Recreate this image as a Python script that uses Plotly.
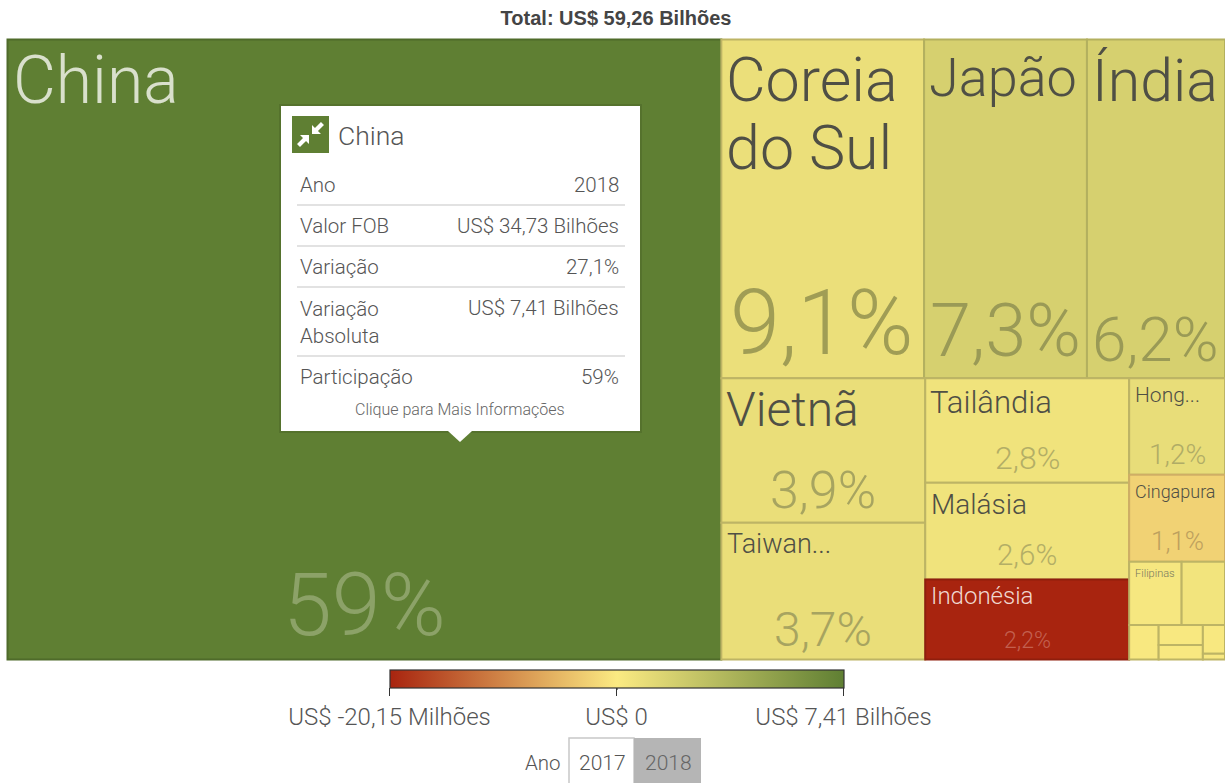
import plotly.graph_objects as go

W, H = 1225, 783

# ---- data ----
ids = ["root", "China", "Resto", "Linha1", "Linha2", "Coreia do Sul", "Japão", "Índia",
       "Col1", "Col2", "Col3", "Vietnã", "Taiwan", "Tailândia", "Malásia", "Indonésia",
       "Hong Kong", "Cingapura", "Menores", "MenoresB", "FaixaA", "FaixaB",
       "Filipinas", "Outro1", "Outro2", "Grupo3", "Grupo4",
       "Outro3", "Outro4", "Outro5", "Outro6"]
parents = ["", "root", "root", "Resto", "Resto", "Linha1", "Linha1", "Linha1",
           "Linha2", "Linha2", "Linha2", "Col1", "Col1", "Col2", "Col2", "Col2",
           "Col3", "Col3", "Col3", "Menores", "MenoresB", "MenoresB",
           "FaixaA", "FaixaA", "FaixaB", "FaixaB", "FaixaB",
           "Grupo3", "Grupo3", "Grupo4", "Grupo4"]
# FOB value, US$ billions (groups are 0: they just sum their children)
values = [0, 34.73, 0, 0, 0, 5.39, 4.33, 3.67,
          0, 0, 0, 2.31, 2.19, 1.67, 1.55, 1.28,
          0.725, 0.655, 0, 0, 0, 0,
          0.26, 0.215, 0.08, 0, 0,
          0.07, 0.05, 0.05, 0.01]
# position on the diverging colour scale: -1 = -20,15 mi, 0 = 0, 1 = 7,41 bi
color_pos = [0, 1.0, 0, 0, 0, 0.10, 0.24, 0.24,
             0, 0, 0, 0.11, 0.11, 0.07, 0.07, -1.0,
             0.12, -0.12, 0, 0, 0, 0,
             0.03, 0.06, 0.02, 0, 0,
             0.02, 0.02, 0.02, 0.02]
B = "#bdb465"
N = "rgba(0,0,0,0)"
line_colors = [N, "#4f6b2a", N, N, N,
               B, "#b3b05f", "#b3b05f",
               N, N, N, B, B,
               B, B, "#8f1e0d",
               B, "#cfae65", N, N, N, N,
               B, B, B, N, N,
               B, B, B, B]
line_widths = [0, 2, 0, 0, 0, 2, 2, 2, 0, 0, 0, 2, 2, 2, 2, 2,
               2, 2, 0, 0, 0, 0, 2, 2, 2, 0, 0, 2, 2, 2, 2]
scale = [[0.0, "#a8240f"], [0.5, "#fbea82"], [1.0, "#5f7f33"]]

title_text = "Total: US$ 59,26 Bilhões"
tick_vals = [-1, 0, 1]
tick_text = ["US$ -20,15 Milhões", "US$ 0", "US$ 7,41 Bilhões"]

cell_labels = ["China", "Coreia", "do Sul", "Japão", "Índia", "Vietnã", "Taiwan...", "Tailândia",
               "Malásia", "Indonésia", "Hong...", "Cingapura", "Filipinas"]
label_x = [11, 724, 724, 927, 1090, 724, 725, 928, 929, 929, 1133, 1133, 1133]
label_y = [81, 80, 148, 78, 80, 409, 544, 402, 504, 596, 395, 491, 573]
label_size = [66, 61, 61, 54, 59, 48, 27, 31, 28, 24, 21, 18, 11]
label_color = ["#d9e0cc"] + ["#4f4f45"] * 8 + ["#f0d8cf"] + ["#4f4f45"] * 2 + ["#77775f"]

pct_labels = ["59%", "9,1%", "7,3%", "6,2%", "3,9%", "3,7%", "2,8%", "2,6%", "2,2%", "1,2%", "1,1%"]
pct_x = [364, 822, 1005, 1155, 823, 823, 1027, 1027, 1027, 1177, 1177]
pct_y = [604, 324, 331, 339, 490, 629, 458, 555, 640, 454, 541]
pct_size = [88, 90, 74, 62, 52, 48, 32, 29.5, 23, 28, 26]
pct_color = ["#8ca268", "#a09d55", "#9a9a56", "#9a9a56", "#a7a460", "#a7a460", "#b3ae66", "#b3ae66",
             "#c3604f", "#b0ac66", "#bda05e"]

tip_title = "China"
tip_rows = ["Ano", "Valor FOB", "Variação", "Variação<br>Absoluta", "Participação"]
tip_vals = ["2018", "US$ 34,73 Bilhões", "27,1%", "US$ 7,41 Bilhões", "59%"]
tip_row_y = [185, 226, 267, 322, 377]
tip_val_y = [185, 226, 267, 308, 377]
tip_sep_y = [205, 246, 287, 356]
tip_foot = "Clique para Mais Informações"

FONT = "Roboto"
px = lambda x: x / W
py = lambda y: 1 - y / H


def txt(text, x, y, size, color, anchor="left", weight=300):
    return dict(text=text, x=px(x), y=py(y), xref="paper", yref="paper", showarrow=False,
                xanchor=anchor, yanchor="middle", align=anchor,
                font=dict(family=FONT, size=size, color=color, weight=weight))


def rect(x0, y0, x1, y1, fill, line=None, lw=0):
    return dict(type="rect", xref="paper", yref="paper", x0=px(x0), x1=px(x1), y0=py(y0), y1=py(y1),
                fillcolor=fill, line=dict(color=line or fill, width=lw), layer="above")


def path(pts, fill):
    d = "M " + " L ".join(f"{px(a):.5f} {py(b):.5f}" for a, b in pts) + " Z"
    return dict(type="path", xref="paper", yref="paper", path=d, fillcolor=fill,
                line=dict(width=0), layer="above")


fig = go.Figure(go.Treemap(
    ids=ids, labels=ids, parents=parents, values=values, branchvalues="remainder", sort=False,
    textinfo="none", hoverinfo="skip",
    tiling=dict(packing="slice-dice", pad=0),
    pathbar=dict(visible=False),
    domain=dict(x=[7.5 / W, 1], y=[1 - 659.5 / H, 1 - 39.5 / H]),
    marker=dict(colors=color_pos, colorscale=scale, cmin=-1, cmax=1, showscale=True,
                pad=dict(t=0, l=0, r=0, b=0),
                line=dict(color=line_colors, width=line_widths),
                colorbar=dict(orientation="h", lenmode="pixels", len=454, thicknessmode="pixels",
                              thickness=18, x=616.5 / W, xanchor="center", y=py(670), yanchor="top",
                              xpad=0, ypad=0, outlinecolor="#333", outlinewidth=1.2,
                              tickmode="array", tickvals=tick_vals, ticktext=tick_text,
                              ticks="outside", ticklen=8, tickcolor="#333", tickwidth=1.2,
                              tickfont=dict(family=FONT, size=24, color="#555", weight=300))),
))

annos = [txt(t, x, y, s, c) for t, x, y, s, c in zip(cell_labels, label_x, label_y, label_size, label_color)]
annos += [txt(t, x, y, s, c, "center") for t, x, y, s, c in zip(pct_labels, pct_x, pct_y, pct_size, pct_color)]
annos += [txt(tip_title, 336, 135, 26.5, "#555")]
annos += [txt(t, 298, y, 20.5, "#555") for t, y in zip(tip_rows, tip_row_y)]
annos += [txt(t, 621, y, 20.5, "#555", "right") for t, y in zip(tip_vals, tip_val_y)]
annos += [txt(tip_foot, 460, 409, 16, "#666", "center")]
annos += [txt("Ano", 523, 763, 20.5, "#555"), txt("2017", 602, 763, 21, "#555", "center"),
          txt("2018", 668, 763, 21, "#666", "center")]

shapes = [rect(279, 104, 642, 433, "rgba(0,0,0,0.10)"),
          rect(281, 106, 640, 431, "#ffffff"),
          path([(448, 431), (472, 431), (460, 442)], "#ffffff"),
          rect(292, 116, 329, 153, "#5f7f33")]
# icon arrows
shapes += [path([(297, 144), (303, 138), (300, 135), (309, 135), (309, 144), (306, 141), (300, 147)], "#ffffff"),
           path([(324, 125), (318, 131), (321, 134), (312, 134), (312, 125), (315, 128), (321, 122)], "#ffffff")]
shapes += [dict(type="line", xref="paper", yref="paper", x0=px(297), x1=px(625), y0=py(y), y1=py(y),
                line=dict(color="#d9d9d9", width=1.5), layer="above") for y in tip_sep_y]
shapes += [rect(569, 738, 634, 790, "#ffffff", "#c8c8c8", 1.5), rect(634, 738, 701, 790, "#b5b5b5")]
# centre mark of the colour bar crosses the bar itself
shapes += [dict(type="line", xref="paper", yref="paper", x0=px(617), x1=px(617), y0=py(670), y1=py(690),
                line=dict(color="#333", width=1.2), layer="above")]

fig.update_layout(
    width=W, height=H, margin=dict(l=0, r=0, t=0, b=0), paper_bgcolor="white",
    showlegend=False, shapes=shapes, annotations=annos,
    title=dict(text=title_text, x=616 / W, xanchor="center", y=py(18), yanchor="middle",
               font=dict(family="Liberation Sans", size=20, color="#444", weight=700)),
)
fig.write_html("out.html", config=dict(displayModeBar=False),
               post_script="document.body.style.margin='0';")
